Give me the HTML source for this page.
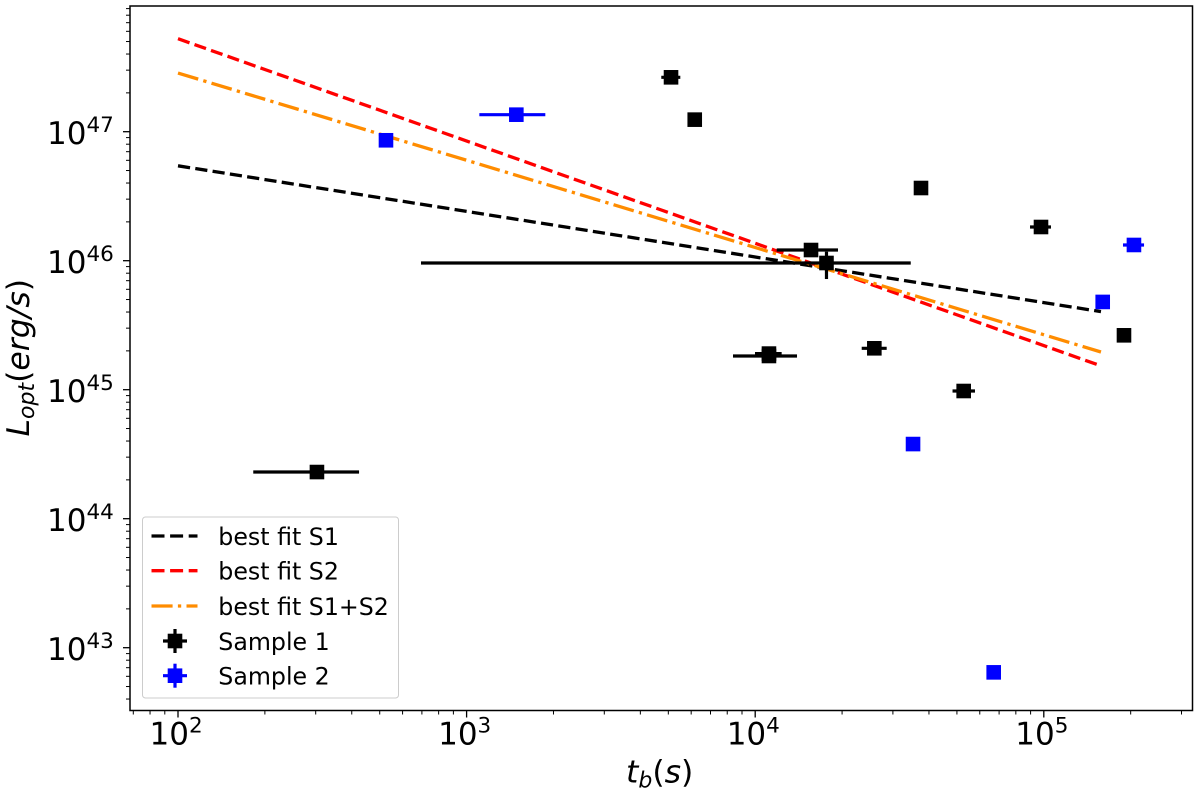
<!DOCTYPE html>
<html>
<head>
<meta charset="utf-8">
<title>Optical luminosity vs break time</title>
<style>
html,body{margin:0;padding:0;background:#fff;width:1200px;height:795px;overflow:hidden}
svg{display:block;filter:blur(0.35px)}
text{font-family:"DejaVu Sans",sans-serif;fill:#000}
</style>
</head>
<body>
<svg id="chart" xmlns="http://www.w3.org/2000/svg" width="1200" height="795" viewBox="0 0 1200 795"></svg>
<script>
// ---- data ----
const xTickLabels = [2, 3, 4, 5];
const yTickLabels = [43, 44, 45, 46, 47];

const s1T     = [303, 5109, 6173, 37540, 97790, 15610, 17660, 11160, 11160, 25870, 52770, 189600];
const s1TLow  = [182.3, 4727, 6173, 37540, 89590, 11870, 695, 8377, 9984, 23390, 48280, 184400];
const s1THigh = [424, 5502, 6173, 37540, 105900, 19360, 34590, 13960, 12350, 28550, 57750, 195000];
const s1L     = [2.30e44, 2.64e47, 1.24e47, 3.66e46, 1.825e46, 1.21e46, 9.60e45, 1.825e45, 1.905e45, 2.094e45, 9.77e44, 2.64e45];
const s1LLow  = [2.30e44, 2.64e47, 1.24e47, 3.66e46, 1.825e46, 1.21e46, 7.21e45, 1.825e45, 1.905e45, 2.094e45, 9.77e44, 2.64e45];
const s1LHigh = [2.30e44, 2.64e47, 1.24e47, 3.66e46, 1.825e46, 1.21e46, 1.175e46, 1.825e45, 1.905e45, 2.094e45, 9.77e44, 2.64e45];

const s2T     = [525.6, 1487, 35230, 67050, 160000, 205300];
const s2TLow  = [525.6, 1107, 35230, 65100, 160000, 188100];
const s2THigh = [525.6, 1874, 35230, 68820, 160000, 222500];
const s2L     = [8.58e46, 1.355e47, 3.79e44, 6.44e42, 4.79e45, 1.324e46];

const fitT   = [100, 157800];
const fitS1  = [5.44e46, 4.03e45];
const fitS2  = [5.26e47, 1.53e45];
const fitS12 = [2.85e47, 1.96e45];

const legendLabels = ["best fit S1", "best fit S2", "best fit S1+S2", "Sample 1", "Sample 2"];

// ---- layout ----
const NS = "http://www.w3.org/2000/svg";
const svg = document.getElementById("chart");
const plot = {left: 130, right: 1192.5, top: 6, bottom: 710.5};
const x = t => 178 + (Math.log10(t) - 2) * 288.6;
const y = l => 131.7 - (Math.log10(l) - 47) * 129;

function el(tag, attrs, parent) {
  const n = document.createElementNS(NS, tag);
  for (const k in attrs) n.setAttribute(k, attrs[k]);
  (parent || svg).appendChild(n);
  return n;
}
function line(x1, y1, x2, y2, stroke, w, parent) {
  return el("line", {x1, y1, x2, y2, stroke, "stroke-width": w}, parent);
}

// ---- fit lines ----
function fitLine(values, color, dash, name) {
  const p = el("line", {x1: x(fitT[0]), y1: y(values[0]), x2: x(fitT[1]), y2: y(values[1]),
    stroke: color, "stroke-width": 3.3, "stroke-dasharray": dash});
  
  
}
fitLine(fitS1, "#000", "12.2 5.3", "fit-line-s1");
fitLine(fitS2, "#f00", "12.2 5.3", "fit-line-s2");
fitLine(fitS12, "#ff8c00", "21.1 5.3 3.3 5.3", "fit-line-s1-s2");

// ---- points ----
function points(ts, lows, highs, ls, lLow, lHigh, color, name) {
  const g = el("g", {});
  
  
  ts.forEach((t, i) => {
    const px = x(t), py = y(ls[i]);
    const pg = el("g", {}, g);
    
    
    line(x(lows[i]), py, x(highs[i]), py, color, 3.2, pg);
    line(px, y(lLow[i]), px, y(lHigh[i]), color, 3.2, pg);
    el("rect", {x: px - 7.3, y: py - 7.3, width: 14.6, height: 14.6, fill: color}, pg);
  });
}
points(s1T, s1TLow, s1THigh, s1L, s1LLow, s1LHigh, "#000", "sample-1");
points(s2T, s2TLow, s2THigh, s2L, s2L, s2L, "#00f", "sample-2");

// ---- axes frame ----
const frame = el("rect", {x: plot.left, y: plot.top, width: plot.right - plot.left, height: plot.bottom - plot.top,
  fill: "none", stroke: "#000", "stroke-width": 1.5});



// ---- ticks ----
const tickGroup = el("g", {});


for (let d = 1; d <= 5; d++) {
  for (let m = 1; m <= 9; m++) {
    const px = x(m * Math.pow(10, d));
    if (px < plot.left || px > plot.right) continue;
    line(px, plot.bottom, px, plot.bottom + (m === 1 ? 7 : 4), "#000", m === 1 ? 1.3 : 1, tickGroup);
  }
}
for (let d = 42; d <= 47; d++) {
  for (let m = 1; m <= 9; m++) {
    const py = y(m * Math.pow(10, d));
    if (py < plot.top || py > plot.bottom) continue;
    line(plot.left, py, plot.left - (m === 1 ? 7 : 4), py, "#000", m === 1 ? 1.3 : 1, tickGroup);
  }
}

function tickLabel(px, baseline, exp, name) {
  const t = el("text", {x: px, y: baseline, "font-size": 31});
  
  
  t.textContent = "10";
  const s = el("tspan", {"font-size": 21.5, dy: -12}, t);
  s.textContent = String(exp);
}
xTickLabels.forEach(e => {
  tickLabel(x(Math.pow(10, e)) - 28.5, 744.5, e, 'x-tick-label');
});
yTickLabels.forEach(e => {
  tickLabel(47, y(Math.pow(10, e)) + 12.3, e, 'y-tick-label');
});

// ---- axis titles ----
const xt = el("text", {x: 626, y: 782.7, "font-size": 31.5});


el("tspan", {"font-style": "italic"}, xt).textContent = "t";
el("tspan", {"font-style": "italic", "font-size": 22, dy: 5}, xt).textContent = "b";
el("tspan", {dy: -5}, xt).textContent = "(";
el("tspan", {"font-style": "italic"}, xt).textContent = "s";
el("tspan", {}, xt).textContent = ")";

const yt = el("text", {x: 0, y: 0, "font-size": 31.5, transform: "translate(29,436.5) rotate(-90)"});


el("tspan", {"font-style": "italic"}, yt).textContent = "L";
el("tspan", {"font-style": "italic", "font-size": 22, dy: 5}, yt).textContent = "opt";
el("tspan", {dy: -5}, yt).textContent = "(";
el("tspan", {"font-style": "italic"}, yt).textContent = "erg/s";
el("tspan", {}, yt).textContent = ")";

// ---- legend ----
const lg = el("g", {});


el("rect", {x: 142.5, y: 517, width: 256, height: 181, rx: 3, ry: 3, fill: "#fff", "fill-opacity": 0.8, stroke: "#ccc", "stroke-width": 1}, lg);
const rowY = [536, 570.7, 606, 641, 675.7];
const handleStyles = [["#000", "13 5.6"], ["#f00", "13 5.6"], ["#ff8c00", "21.1 5.3 3.3 5.3"]];
legendLabels.forEach((label, i) => {
  const row = el("g", {}, lg);
  
  
  if (i < 3) {
    el("line", {x1: 151.5, y1: rowY[i], x2: 197.5, y2: rowY[i], stroke: handleStyles[i][0],
      "stroke-width": 3.3, "stroke-dasharray": handleStyles[i][1]}, row);
  } else {
    const c = i === 3 ? "#000" : "#00f";
    line(163, rowY[i], 187, rowY[i], c, 3.2, row);
    line(175, rowY[i] - 12, 175, rowY[i] + 12, c, 3.2, row);
    el("rect", {x: 167.7, y: rowY[i] - 7.3, width: 14.6, height: 14.6, fill: c}, row);
  }
  const t = el("text", {x: 218.3, y: rowY[i] + 9, "font-size": 23.7}, row);
  t.textContent = label;
});
</script>
</body>
</html>
